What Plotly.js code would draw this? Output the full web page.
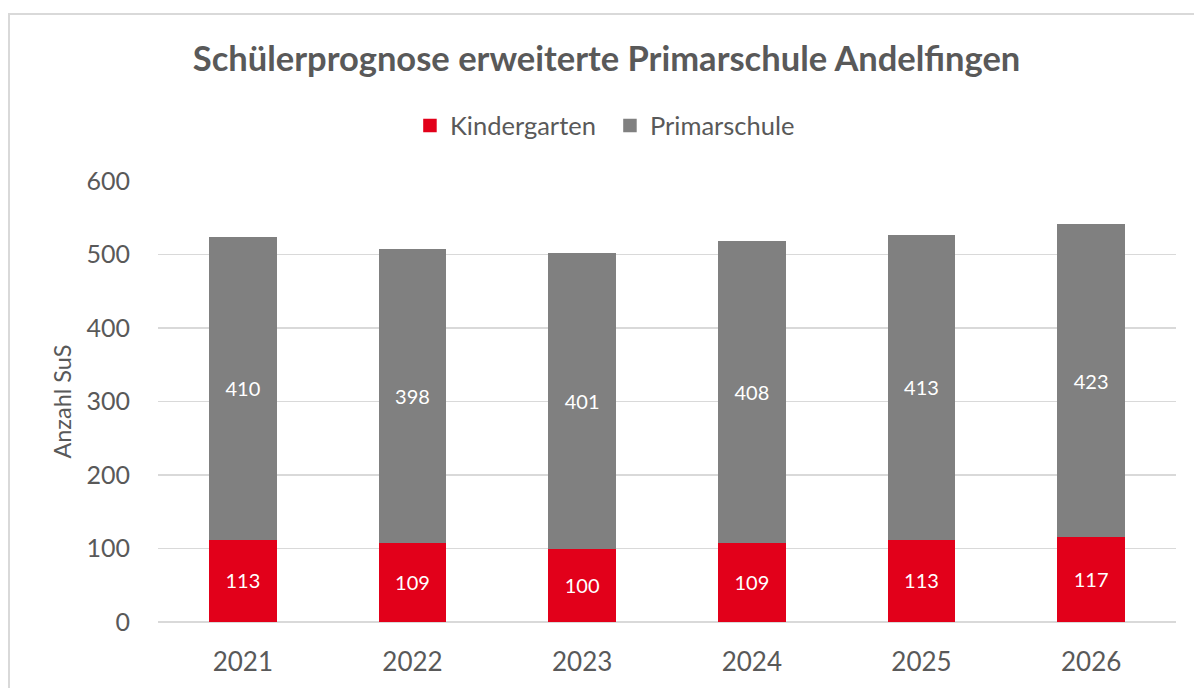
<!DOCTYPE html>
<html><head><meta charset="utf-8">
<script src="https://cdn.plot.ly/plotly-3.0.1.min.js"></script>
<style>
html,body{margin:0;padding:0;background:#fff;overflow:hidden;}
#frame{position:absolute;left:8px;top:13px;width:1200px;height:700px;border:2px solid #D9D9D9;box-sizing:border-box;}
#chart{position:absolute;left:0;top:0;width:1194px;height:688px;}
</style></head>
<body>
<div id="frame"></div>
<div id="chart"></div>
<script>
const years = ['2021','2022','2023','2024','2025','2026'];
const kindergarten = [113,109,100,109,113,117];
const primarschule = [410,398,401,408,413,423];
const yTicks = [0,100,200,300,400,500,600];

const font = 'Lato, "Open Sans", sans-serif';
const traces = [
  {type:'bar', name:'Kindergarten', x:years, y:kindergarten, marker:{color:'#E2001A', line:{color:'#E2001A', width:1.5}},
   text:kindergarten.map(String), textposition:'inside', insidetextanchor:'middle',
   textfont:{color:'#ffffff', size:20, family:font}, hoverinfo:'none'},
  {type:'bar', name:'Primarschule', x:years, y:primarschule, marker:{color:'#808080', line:{color:'#808080', width:1.5}},
   text:primarschule.map(String), textposition:'inside', insidetextanchor:'middle',
   textfont:{color:'#ffffff', size:20, family:font}, hoverinfo:'none'}
];
const layout = {
  width:1194, height:688,
  paper_bgcolor:'rgba(0,0,0,0)', plot_bgcolor:'rgba(0,0,0,0)',
  barmode:'stack', bargap:0.61,
  margin:{l:158, r:18, t:181, b:66},
  font:{family:font, color:'#595959'},
  title:{text:'<b>Schülerprognose erweiterte Primarschule Andelfingen</b>', x:0.508, xanchor:'center', y:0.915, yanchor:'middle',
    font:{size:34.5, color:'#595959', family:font}},
  showlegend:true,
  legend:{orientation:'h', x:0.2475, xanchor:'left', y:1.125, yanchor:'middle', font:{size:25.5, color:'#595959'},
    traceorder:'normal', itemwidth:30, entrywidth:155, entrywidthmode:'pixels'},
  xaxis:{type:'category', showgrid:false, showline:false, zeroline:false, ticks:'', ticklabelstandoff:22, tickfont:{size:26, color:'#595959'}},
  yaxis:{range:[0,600], tickvals:yTicks, ticktext:yTicks.map(String), showgrid:true, gridcolor:'#D9D9D9', gridwidth:1.5,
    zeroline:true, zerolinecolor:'#D9D9D9', zerolinewidth:1.5, showline:false, ticks:'', ticklen:0, ticklabelstandoff:27,
    tickfont:{size:25, color:'#595959'}, automargin:false,
    title:{text:'Anzahl SuS', font:{size:23.5, color:'#595959'}, standoff:8}}
};
Plotly.newPlot('chart', traces, layout, {staticPlot:true, displayModeBar:false});
</script>
</body></html>
